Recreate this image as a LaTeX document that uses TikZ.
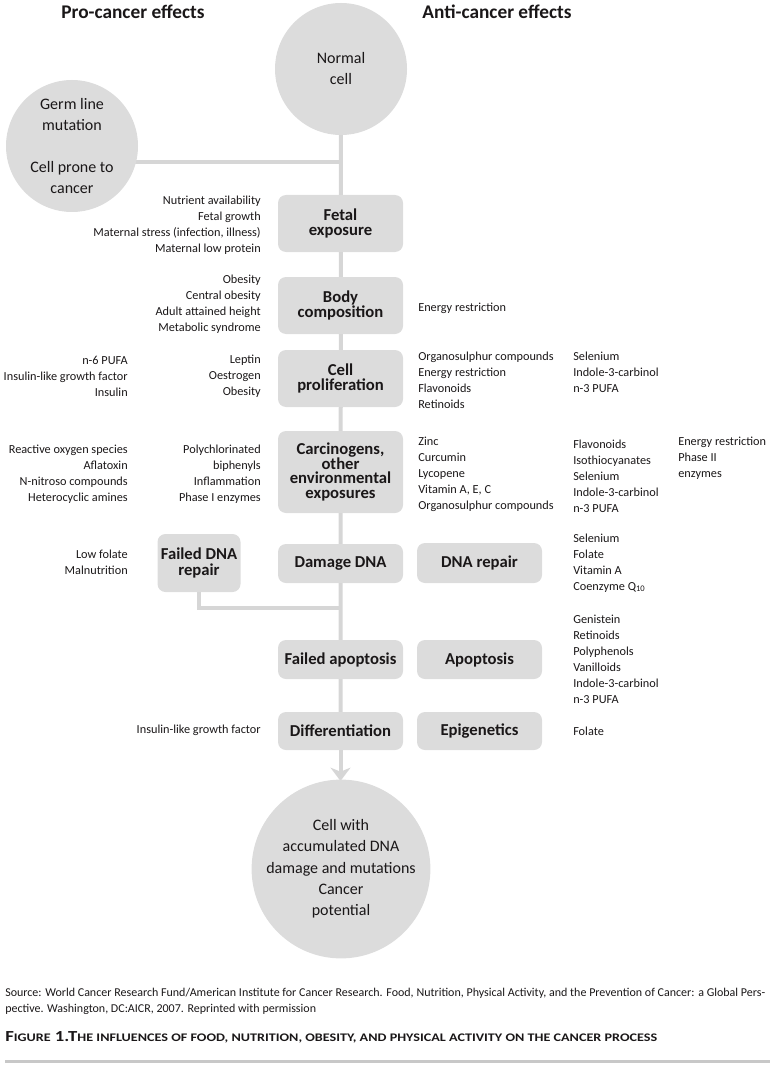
\documentclass[tikz,border=0pt]{standalone}
\usepackage{fontspec}
\usepackage{graphicx}
\setmainfont{Carlito}
\usetikzlibrary{arrows.meta}
\definecolor{boxgray}{HTML}{DCDCDC}
\definecolor{linegray}{HTML}{D6D6D6}
\definecolor{rulegray}{HTML}{C8C8C8}
\definecolor{ink}{HTML}{1A1718}
\pgfdeclarelayer{bg}
\pgfsetlayers{bg,main}
\newcommand\fakesc[1]{{\fontsize{8.7}{10}\selectfont #1}}
\begin{document}
\begin{tikzpicture}[x=0.75pt,y=-0.75pt,
  every node/.style={text=ink, inner sep=0pt},
  stage/.style={fill=boxgray, rounded corners=6pt, minimum width=93.75pt, align=center,
    font=\fontsize{12.5}{11.8}\selectfont\bfseries},
  cellc/.style={circle, fill=boxgray, align=center, font=\fontsize{12}{15.75}\selectfont},
  lst/.style={font=\fontsize{9.2}{12}\selectfont},
  lstr/.style={lst, anchor=east, align=right},
  lstl/.style={lst, anchor=west, align=left},
  conn/.style={draw=linegray, line width=3pt},
  headtxt/.style={font=\fontsize{14.5}{16}\selectfont\bfseries}
]
\useasboundingbox (0,0) rectangle (770,1066);

% headings
\node[headtxt] (hpro) at (133,12) {Pro-cancer effects};
\node[headtxt] (hanti) at (497,12) {Anti-cancer effects};

% circles
\node[cellc, minimum size=99pt] (normal) at (341,69) {Normal\\cell};
\node[cellc, minimum size=99pt] (germ) at (72,146) {Germ line\\mutation\\[15.75pt]Cell prone to\\cancer};
\node[cellc, minimum size=129pt, font=\fontsize{12}{16}\selectfont] (final) at (341,869)
  {Cell with\\accumulated DNA\\damage and mutations\\Cancer\\potential};

% main stages
\node[stage, minimum height=42.75pt] (fetal) at (340.5,223.5) {Fetal\\exposure};
\node[stage, minimum height=42.75pt] (body) at (340.5,305.5) {Body\\composition};
\node[stage, minimum height=42.75pt] (cellp) at (340.5,378.5) {Cell\\proliferation};
\node[stage, minimum height=61.5pt, font=\fontsize{12.5}{11}\selectfont\bfseries] (carc) at (340.5,472)
  {Carcinogens,\\other\\environmental\\exposures};
\node[stage, minimum height=29.25pt] (damage) at (340.5,563.5) {Damage DNA};
\node[stage, minimum height=29.25pt] (fapop) at (340.5,659.5) {Failed apoptosis};
\node[stage, minimum height=28.5pt] (diff) at (340.5,731) {Differentiation};
\node[stage, minimum height=30pt] (dnarep) at (479.5,563) {DNA repair};
\node[stage, minimum height=29.25pt] (apop) at (479.5,659.5) {Apoptosis};
\node[stage, minimum height=28.5pt] (epi) at (479.5,731) {Epigenetics};
\node[stage, minimum width=62.25pt, minimum height=43.5pt] (fdna) at (199,563) {Failed DNA\\repair};

% junctions
\coordinate (j1) at (340.5,162);
\coordinate (j2) at (340.5,608);
\coordinate (tip) at (340.5,781);

\begin{pgfonlayer}{bg}
  \draw[conn] (normal.center) -- (diff.center);
  \draw[conn] (germ.center |- j1) -- (j1);
  \draw[conn] (fdna.center) |- (j2);
  \draw[conn, -{Stealth[length=10pt,width=15pt,inset=3pt]}] (diff.south) -- (tip);
\end{pgfonlayer}

% pro-cancer lists (inner column)
\node[lstr] (pfetal) at (261,225) {Nutrient availability\\Fetal growth\\Maternal stress (infection, illness)\\Maternal low protein};
\node[lstr] (pbody) at (261,304.5) {Obesity\\Central obesity\\Adult attained height\\Metabolic syndrome};
\node[lstr] (pcell) at (261,376) {Leptin\\Oestrogen\\Obesity};
\node[lstr] (pcarc) at (261,474) {Polychlorinated\\biphenyls\\Inflammation\\Phase I enzymes};
\node[lstr] (pdiff) at (261,730) {Insulin-like growth factor};
% pro-cancer lists (outer column)
\node[lstr] (pcell2) at (128,376) {n-6 PUFA\\Insulin-like growth factor\\Insulin};
\node[lstr] (pcarc2) at (128,474) {Reactive oxygen species\\Aflatoxin\\N-nitroso compounds\\Heterocyclic amines};
\node[lstr] (pfdna) at (128,562) {Low folate\\Malnutrition};

% anti-cancer lists
\node[lstl] (abody) at (418,308) {Energy restriction};
\node[lstl] (acell) at (418,380) {Organosulphur compounds\\Energy restriction\\Flavonoids\\Retinoids};
\node[lstl] (acarc) at (418,474) {Zinc\\Curcumin\\Lycopene\\Vitamin A, E, C\\Organosulphur compounds};
\node[lstl] (acell2) at (573,372) {Selenium\\Indole-3-carbinol\\n-3 PUFA};
\node[lstl] (acarc2) at (573,476) {Flavonoids\\Isothiocyanates\\Selenium\\Indole-3-carbinol\\n-3 PUFA};
\node[lstl] (acarc3) at (678,458.5) {Energy restriction\\Phase II\\enzymes};
\node[lstl] (arep) at (573,563) {Selenium\\Folate\\Vitamin A\\Coenzyme Q\textsubscript{10}};
\node[lstl] (aapop) at (573,659) {Genistein\\Retinoids\\Polyphenols\\Vanilloids\\Indole-3-carbinol\\n-3 PUFA};
\node[lstl] (aepi) at (573,731) {Folate};

% caption
\node[anchor=west, font=\fontsize{9}{12}\selectfont] (src1) at (5,993)
  {\makebox[570pt][s]{Source: World Cancer Research Fund/American Institute for Cancer Research. Food, Nutrition, Physical Activity, and the Prevention of Cancer: a Global Pers-}};
\node[anchor=west, font=\fontsize{9}{12}\selectfont] (src2) at (5,1009)
  {pective. Washington, DC:AICR, 2007. Reprinted with permission};
\node[anchor=west, font=\fontsize{11.5}{12}\selectfont\bfseries] (figcap) at (5,1037)
  {\scalebox{1.22}[1]{F\fakesc{IGURE} 1.T\fakesc{HE INFLUENCES OF FOOD, NUTRITION, OBESITY, AND PHYSICAL ACTIVITY ON THE CANCER PROCESS}}};
\draw[draw=rulegray, line width=2.25pt] (5,1061) -- (770,1061);
\end{tikzpicture}
\end{document}
